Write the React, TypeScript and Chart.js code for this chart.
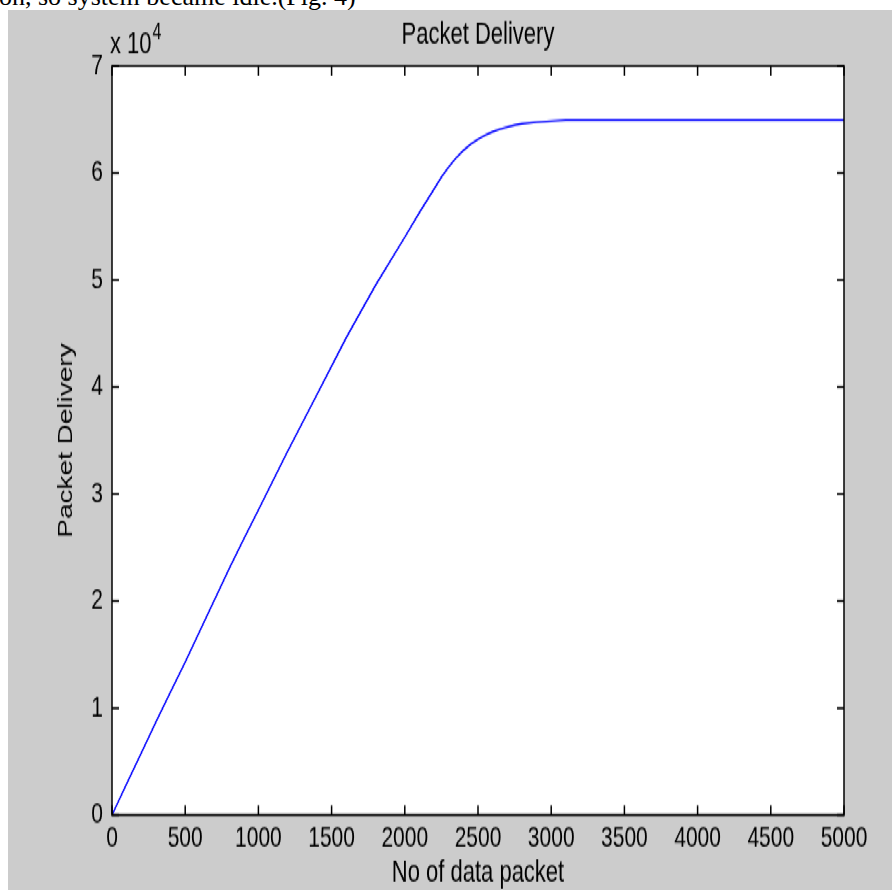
import React, { useEffect, useRef } from 'react';
import { Chart, registerables } from 'chart.js';

Chart.register(...registerables);

// ---- data ----
const xValues = [0, 100, 200, 300, 400, 500, 600, 700, 800, 900, 1000, 1200, 1400, 1600, 1800, 2000, 2100, 2200, 2250, 2300, 2350, 2400, 2450, 2500, 2550, 2600, 2650, 2700, 2750, 2800, 2900, 3000, 3100, 5000];
const yValues = [0, 2900, 5800, 8700, 11500, 14300, 17200, 20100, 23000, 25800, 28500, 34000, 39300, 44600, 49500, 54000, 56300, 58500, 59600, 60550, 61400, 62100, 62700, 63150, 63550, 63850, 64100, 64300, 64470, 64600, 64760, 64850, 64950, 64950];

const xMin = 0;
const xMax = 5000;
const xStep = 500;
const yMin = 0;
const yMax = 70000;
const yStep = 10000;
const yExponent = 4;

const chartTitle = 'Packet Delivery';
const xTitle = 'No of data packet';
const yTitle = 'Packet Delivery';
const captionText = 'on, so system became idle.(Fig. 4)';

// ---- layout ----
const W = 884;
const H = 629;
const SCALE_Y = 880 / H;
const FONT = '"Liberation Sans", Arial, Helvetica, sans-serif';

const framePlugin = {
  id: 'matlabFrame',
  beforeDraw(chart: any) {
    const { ctx, chartArea: a } = chart;
    ctx.save();
    ctx.fillStyle = '#ffffff';
    ctx.fillRect(a.left, a.top, a.right - a.left, a.bottom - a.top);
    ctx.restore();
  },
  afterDraw(chart: any) {
    const { ctx, chartArea: a, scales } = chart;
    const xs = scales.x;
    const ys = scales.y;
    const tl = 7;
    ctx.save();
    ctx.strokeStyle = '#000000';
    ctx.lineWidth = 1.5;
    ctx.strokeRect(a.left, a.top, a.right - a.left, a.bottom - a.top);
    ctx.beginPath();
    xs.ticks.forEach((t: any) => {
      const px = xs.getPixelForValue(t.value);
      ctx.moveTo(px, a.bottom);
      ctx.lineTo(px, a.bottom - tl);
      ctx.moveTo(px, a.top);
      ctx.lineTo(px, a.top + tl);
    });
    ys.ticks.forEach((t: any) => {
      const py = ys.getPixelForValue(t.value);
      ctx.moveTo(a.left, py);
      ctx.lineTo(a.left + tl, py);
      ctx.moveTo(a.right, py);
      ctx.lineTo(a.right - tl, py);
    });
    ctx.stroke();

    // exponent label "x 10^4"
    ctx.fillStyle = '#000000';
    ctx.textAlign = 'left';
    ctx.textBaseline = 'alphabetic';
    ctx.font = `22px ${FONT}`;
    const base = 'x 10';
    ctx.fillText(base, a.left - 2, 31);
    const w = ctx.measureText(base).width;
    ctx.font = `16px ${FONT}`;
    ctx.fillText(String(yExponent), a.left - 1 + w, 21.4);
    ctx.restore();
  },
};

function PacketChart() {
  const ref = useRef<HTMLCanvasElement | null>(null);

  useEffect(() => {
    if (!ref.current) return;
    const points = xValues.map((x, i) => ({ x, y: yValues[i] }));
    const chart = new Chart(ref.current, {
      type: 'line',
      data: {
        datasets: [
          {
            data: points,
            borderColor: '#0000ff',
            borderWidth: 1.4,
            pointRadius: 0,
            tension: 0,
            fill: false,
          },
        ],
      },
      options: {
        responsive: false,
        devicePixelRatio: 1,
        animation: false,
        events: [],
        layout: { padding: { left: 0, right: 48, top: 0, bottom: 0 } },
        plugins: {
          legend: { display: false },
          tooltip: { enabled: false },
          title: {
            display: true,
            text: chartTitle,
            color: '#000000',
            fullSize: false,
            font: { family: FONT, size: 22, weight: 'normal', lineHeight: 1.2 },
            padding: { top: 4.6, bottom: 9 },
          },
        },
        scales: {
          x: {
            type: 'linear',
            min: xMin,
            max: xMax,
            grid: { display: false, drawTicks: false },
            border: { display: false },
            ticks: {
              stepSize: xStep,
              autoSkip: false,
              maxRotation: 0,
              padding: 4.2,
              color: '#000000',
              font: { family: FONT, size: 21 },
              callback: (v: any) => String(v),
            },
            title: {
              display: true,
              text: xTitle,
              color: '#000000',
              font: { family: FONT, size: 22, lineHeight: 1 },
              padding: { top: 0, bottom: 0.9 },
            },
            afterFit: (s: any) => {
              s.height = 53.6;
            },
          },
          y: {
            type: 'linear',
            min: yMin,
            max: yMax,
            grid: { display: false, drawTicks: false },
            border: { display: false },
            ticks: {
              stepSize: yStep,
              padding: 9,
              color: '#000000',
              font: { family: FONT, size: 21 },
              callback: (v: any) => String(Number(v) / Math.pow(10, yExponent)),
            },
            title: {
              display: true,
              text: yTitle,
              color: '#000000',
              font: { family: FONT, size: 20, lineHeight: 1.2 },
              padding: { top: 46.1, bottom: 0 },
            },
            afterFit: (s: any) => {
              s.width = 104;
            },
          },
        },
      } as any,
      plugins: [framePlugin],
    });
    return () => chart.destroy();
  }, []);

  return (
    <canvas
      ref={ref}
      width={W}
      height={H}
      style={{ width: `${W}px`, height: `${H}px`, display: 'block' }}
    />
  );
}

export default function App() {
  return (
    <div
      style={{
        position: 'absolute',
        left: 0,
        top: 0,
        width: 892,
        height: 890,
        background: '#ffffff',
        overflow: 'hidden',
      }}
    >
      <div style={{ position: 'absolute', left: 0, top: 0, width: 892, height: 10, overflow: 'hidden' }}>
        <div
          style={{
            position: 'absolute',
            left: -1,
            top: -16,
            whiteSpace: 'nowrap',
            font: '26px/26px "Liberation Serif", "Times New Roman", serif',
            color: '#000000',
          }}
        >
          {captionText}
        </div>
      </div>
      <div
        style={{
          position: 'absolute',
          left: 8,
          top: 10,
          width: W,
          height: H,
          background: '#cccccc',
          transform: `scaleY(${SCALE_Y})`,
          transformOrigin: '0 0',
        }}
      >
        <PacketChart />
      </div>
    </div>
  );
}
